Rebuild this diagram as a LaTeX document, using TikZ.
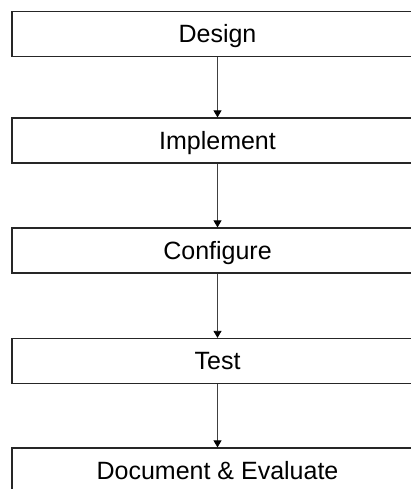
\documentclass[tikz,border=0pt]{standalone}
\usepackage{fontspec}
\setmainfont{Liberation Sans}
\usetikzlibrary{arrows.meta}
\begin{document}
\begin{tikzpicture}[x=1pt,y=1pt,
  stepbox/.style={draw=black!85, line width=1.2pt, rectangle, minimum width=411pt, minimum height=45pt,
    inner sep=0pt, text height=17.5pt, text depth=0pt, font=\fontsize{25}{29}\selectfont},
  flow/.style={draw=black!75, line width=0.8pt, -{Triangle[width=8pt,length=7pt,color=black]}}]
\clip (0,0) rectangle (411,489);
\fill[white] (0,0) rectangle (411,489);
\node[stepbox] (design) at (217.5,455) {Design};
\node[stepbox] (impl) at (217.5,348.5) {Implement};
\node[stepbox] (conf) at (217.5,238.5) {Configure};
\node[stepbox] (test) at (217.5,128) {Test};
\node[stepbox] (doc) at (217.5,18.5) {Document \& Evaluate};
\draw[flow] (design.south) -- (impl.north);
\draw[flow] (impl.south) -- (conf.north);
\draw[flow] (conf.south) -- (test.north);
\draw[flow] (test.south) -- (doc.north);
\end{tikzpicture}
\end{document}
